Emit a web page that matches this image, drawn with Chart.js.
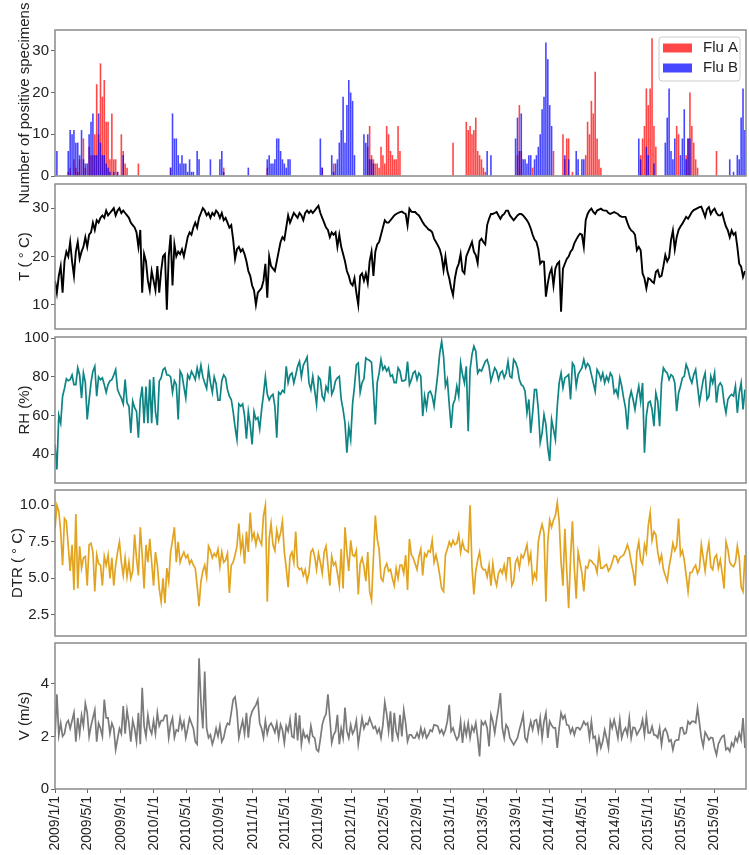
<!DOCTYPE html>
<html>
<head>
<meta charset="utf-8">
<script src="https://cdn.jsdelivr.net/npm/chart.js@4.4.1/dist/chart.umd.min.js"></script>
<style>
  body { margin: 0; background: #fff; }
  #wrap { position: relative; width: 749px; height: 855px; overflow: hidden; }
  canvas { position: absolute; left: 0; }
</style>
</head>
<body>
<div id="wrap">
  <canvas id="fluChart"></canvas>
  <canvas id="tempChart"></canvas>
  <canvas id="rhChart"></canvas>
  <canvas id="dtrChart"></canvas>
  <canvas id="windChart"></canvas>
</div>
<script>
// weekly series, first week starts 2009/1/1
const startDate = '2009/1/1';

const xTickLabels = ['2009/1/1', '2009/5/1', '2009/9/1', '2010/1/1', '2010/5/1', '2010/9/1', '2011/1/1',
  '2011/5/1', '2011/9/1', '2012/1/1', '2012/5/1', '2012/9/1', '2013/1/1', '2013/5/1', '2013/9/1',
  '2014/1/1', '2014/5/1', '2014/9/1', '2015/1/1', '2015/5/1', '2015/9/1'];

const fluTicks = [0, 10, 20, 30];
const tempTicks = [10, 20, 30];
const rhTicks = [40, 60, 80, 100];
const dtrTicks = [2.5, 5, 7.5, 10];
const windTicks = [0, 2, 4];

// positive specimens per week
const fluA = [
  0,0,0,0,0,0,0,1,2,0, 4,2,1,4,0,9,2,0,7,5,
  5,10,22,10,27,19,23,13,13,4, 15,4,4,1,0,10,6,3,2,0,
  0,0,0,0,3,0,0,0,0,0, 0,0,0,0,0,0,0,0,0,0,
  0,2,0,0,0,0,0,0,0,0, 0,0,0,0,0,0,0,0,0,0,
  0,0,0,0,0,0,0,0,0,2, 0,0,0,0,0,0,0,0,0,0,
  0,0,0,0,0,0,0,0,0,0, 0,0,2,0,0,0,0,0,0,0,
  0,0,0,0,0,0,0,0,0,0, 0,0,0,0,0,0,0,0,0,0,
  0,2,0,0,0,0,0,3,0,0, 0,0,0,0,0,0,0,0,0,0,
  0,0,0,0,0,7,12,5,4,3, 3,2,7,5,3,12,10,6,5,4,
  4,12,6,0,0,0,0,0,0,0, 0,0,0,0,0,0,0,0,0,0,
  0,0,0,0,0,0,0,0,0,0, 8,0,0,0,0,0,0,13,11,12,
  10,11,14,6,5,4,2,1,0,0, 0,0,0,0,0,0,0,0,0,0,
  0,0,0,0,5,17,6,0,0,0, 0,0,2,0,0,0,0,0,0,0,
  0,0,0,6,0,0,0,0,10,4, 9,9,0,1,0,0,0,0,0,0,
  5,13,10,18,15,25,9,4,2,0, 0,0,0,0,0,0,0,0,0,0,
  0,0,0,0,0,0,0,0,0,5, 9,12,21,17,21,33,12,7,0,0,
  0,0,0,0,0,0,0,0,12,10, 0,0,0,5,9,20,12,8,4,2,
  0,0,0,0,0,0,0,0,0,6, 0,0,0,0,0,0,0,0,0,0,
  0,0,0,0,0
];
const fluB = [
  0,6,0,0,0,0,0,6,11,10, 11,8,8,5,11,4,3,3,10,13,
  15,5,5,15,8,5,5,3,2,1, 0,1,0,1,0,0,5,0,0,0,
  0,0,0,0,0,0,0,0,0,0, 0,0,0,0,0,0,0,0,0,0,
  0,2,15,9,9,5,3,5,3,3, 1,4,1,1,0,6,4,0,0,0,
  0,0,4,0,0,0,0,4,6,1, 0,0,0,0,0,0,0,0,0,0,
  0,0,2,0,0,0,0,0,0,0, 0,0,4,5,3,3,4,9,9,6,
  4,3,2,4,4,0,0,0,0,0, 0,0,0,0,0,0,0,0,0,0,
  9,2,0,0,0,0,5,1,3,4, 8,11,19,8,17,23,20,18,5,0,
  0,0,0,10,8,10,4,4,3,0, 0,0,0,0,0,0,0,0,0,0,
  0,0,0,0,0,0,0,0,0,0, 0,0,0,0,0,0,0,0,0,0,
  0,0,0,0,0,0,0,0,0,0, 0,0,0,0,0,0,0,0,0,0,
  0,0,0,0,0,0,0,0,6,0, 5,0,0,0,0,0,0,0,0,0,
  0,0,0,9,14,6,15,4,4,3, 5,5,0,4,5,7,10,16,19,32,
  28,17,12,0,0,0,0,0,0,5, 0,4,0,0,0,6,4,0,4,4,
  0,0,0,0,0,0,0,0,0,0, 0,0,0,0,0,0,0,0,0,0,
  0,0,0,0,0,0,0,0,9,4, 0,0,7,5,0,0,3,0,0,0,
  0,0,8,14,21,6,4,9,0,0, 5,9,16,4,9,9,0,0,0,0,
  0,0,0,0,0,0,0,0,0,0, 0,0,0,0,0,0,4,0,1,0,
  5,4,14,21,11
];

// mean temperature (°C)
const temperature = [
  15,12.5,16,18,12.5,19,21,20,23,19, 16,21,23,19.5,21,22,24,22,24.5,25,
  27,25.5,27.5,27,28,28.5,28,29.5,28.5,29, 29.5,30,28.5,29.5,30,29,29.5,29,28.5,28,
  27,26.5,26,25,22,25.5,12.5,20.5,19,15, 13,17,15,13,18,12.5,17,20,20.5,9,
  20,24.5,14,22.5,20,21,20.5,21.5,20,22, 24,25,24.5,26,27,26,28,29,30,29.5,
  28.5,29,28,29,28.5,29.5,29,28,29,27.5, 28,27,26,26.5,23.5,19.5,21.5,22,21,21.5,
  20.5,19,17,16,14,13,10,12.5,13,13.5, 15,18.5,11.5,20,18,17.5,17,19,21,23,
  24,23.5,26,28.5,27,28,29,28.5,28,29, 28.5,27.5,29,29.5,29,29.5,29,29.5,30,30.5,
  29,28,27,26,25.5,24,25,24.5,25,22, 24.5,22,20.5,19,17,16,14.5,14,15.5,12.5,
  10,16,16.5,15,16.5,14.5,19,21,16,21, 22.5,23,24.5,26,27.5,27,27,27.5,28,28.5,
  28.8,29,29.2,29.3,29,28.8,26.4,29.9,29.3,29.2, 29.2,28.8,28.5,27.8,27.1,26.5,26.1,25.6,25.4,25,
  23.7,23,22.3,21.5,20,17.2,20,17,15.5,13.5, 12,15.5,17.5,18.5,20.5,17,16.5,20,21,22,
  23,21,20.3,18.6,23.2,23.7,23,22.5,26.5,27.8, 28.8,28.8,29,29.2,28.5,27.8,28.5,28.8,29.5,29.5,
  28.5,28,27.5,28,28.5,28.8,28.8,28.5,28,27.5, 26.8,25.8,24.5,23.5,23,21.5,18.5,19,18.9,11.7,
  14.5,16.5,17.5,14,17.5,18.5,18.9,8.6,17.5,18.5, 19.5,20,21,21.5,22.7,23.5,24.2,24.7,24.5,22,
  27.5,28.8,29.5,29.9,29.2,28.8,29.5,29.7,29.9,29.6, 29.5,29.5,29,28.8,29,29.2,29,28.8,28.4,28.2,
  28.2,28.2,27,26,25.4,25.1,24.5,21.3,22,21.3, 16.5,15.5,13.4,15.5,15.3,14.8,14.5,16.8,17.2,15.8,
  16,18,20.3,19,19.8,23.4,25.4,21.5,24,25.5, 26.2,26.8,27.5,28.2,27.8,28.5,29.2,29.6,29.8,30,
  30.2,30.3,29.3,28.2,29.8,30.2,28.8,29.5,29.9,29, 28.5,28.5,29,27.5,26.2,25.4,24,25.4,24.5,24.9,
  22,18.5,17.9,15.8,17
];

// relative humidity (%)
const humidity = [
  45,32,60,56,70,74,79,78,78.6,81, 76,76,84.7,81,69,82,77,58,68,77,
  83,85.5,70,80,78.6,79.5,76,72,76,78, 78.6,81,83.8,73.5,71,69,66,78.6,66.6,64.8,
  51,67.4,64,62.2,48.5,68.3,75,56,75,56, 78.6,56,80,62,55,77.8,79.5,83.8,84.7,81,
  81,80,72,78,76,58,83,81,75,69, 81,79,82.9,81,78.6,84.7,80,86,80,76.9,
  74,84,77,72,80,76.5,68,68,78,81, 79.5,73.4,70,68.3,62,54,47.6,66,64.8,66,
  60,48,62,55,45,62,58,59,53,63, 71,80,71,68,70,71,64.8,48.5,72,71,
  73,72,85.5,77,81,82,76.9,81,85.5,88, 80,86,88,90.3,76.9,73.4,80.3,73,65.7,80,
  78.6,70,68,75,72.6,85.5,71,73.4,78,79.5, 80.3,68.3,63,56,40.7,54,47.6,66,75,86.4,
  87.2,72,77,79,89.8,89,88.5,87.5,73,55.3, 77,82,89,83.8,85.5,83,84.7,80.3,81,77,
  77,84.7,83,78,78,78.6,88,76,78.6,82, 83,78.6,82,80.3,59.7,70,64,71.7,72.6,70,
  64.8,73.4,82,92.4,98.4,90.7,75.2,78.6,65.7,53.6, 65.7,68.3,75.2,70,87.2,81.2,76.9,85.5,51.9,83.8,
  91.6,95.9,93.3,82,83.8,83,85.5,88,89,85.5, 77.8,81.2,84.7,83,78.6,82,83,79.5,82,88,
  80.3,79.5,89,87.5,84.7,78.6,76,75.2,72.6,61.4, 68.3,51,61.4,73.4,73.4,63.1,46,51,60.5,55.3,
  43.3,36.4,57.9,52.8,47.6,64.8,76.9,82,74.3,79.5, 80.3,81.2,68.3,87.2,85.5,75.2,81.2,83,84.7,89,
  84.7,87,85.5,81.2,76.9,72.6,83.8,82,78.6,82, 76.9,80.3,77.8,82,80.3,71.7,73.4,70,79.5,75.2,
  69.1,64,52.8,68.3,72.6,68.3,63.1,70,75.2,67.4, 76.9,40.7,59.7,66.6,67.4,63.1,54.5,71.7,67.4,54.5,
  76.9,84.7,83,82,78.6,81.2,80.3,76.9,62.2,71.7, 75.2,79.5,80.3,86.4,83.8,79.5,76.9,81.2,83.8,75.2,
  66.6,72.6,78.6,82,68.3,70,80.3,76.9,82,66.6, 75.2,76.9,75.2,66.6,61.4,68.3,70,70.9,70,75.2,
  61.4,71.7,76.9,63.1,73.4
];

// diurnal temperature range (°C)
const dtr = [
  8.4,10,9.6,8.2,5.9,9.1,8.9,7.2,5.5,7.3, 4.2,9.4,4.3,7.2,5.7,6.4,6.5,4.5,7.3,7.4,
  6.8,4.1,6.6,6,5.9,4.5,6.5,5.9,6.6,5, 6.4,4.5,5.9,6.8,7.5,6.1,5.2,6.4,5.1,6.1,
  5,5.5,8,6.4,5.2,8.5,6.6,4.3,7.3,6.1, 7.7,6.1,4.5,6.8,5.9,4.3,3.4,5,3.3,5.7,
  4.8,6.8,7.6,8.5,6.1,7.5,6.1,6.5,6.8,6.4, 6.6,6,6.25,5.9,5.7,4.5,3.1,4.8,5.5,5.9,
  5.1,7.2,6.9,6.4,6.7,6.5,7,5.8,6.8,6.1, 6.25,6.7,4,5.9,6.1,6.6,7.2,8.75,6.9,7.7,
  6,8.2,6.8,9.5,7.7,8.1,7.3,8,7.6,7.3, 9.3,10,3.4,7.7,8.75,7.3,6.9,8.3,7.6,8.1,
  8.9,6.8,5.7,4.4,6.5,6.8,6.1,8.2,5.8,5.6, 5.7,5.2,5.6,4.8,5.35,6.8,7,6.5,5.6,6.7,
  6.1,5.35,6.8,7.2,5.9,4.5,6.5,5.9,6.1,5.35, 4.5,7,4.3,8.5,6.8,5.5,7.6,6.6,6.5,6.9,
  3.9,6,6.4,5.8,4.8,6.8,4.1,3.5,6.4,9.3, 7.7,7,5,4.8,5.7,6,5.5,5.6,5,4.5,
  5.7,5,5.9,5.9,5.35,6.6,4.2,7.7,6.6,6.4, 6,5.6,6.5,7,5.2,6.7,6.5,6.9,6.8,7.6,
  6.1,6.6,6,5.2,4.3,4.1,6.6,7,7.5,7.2, 7.6,7.3,7.4,8,6.8,7.5,7,6.9,6.8,10,
  5.8,3.9,5.5,6.25,6.8,5.8,5.6,5.6,5.1,5.9, 4.5,6,5,4.5,5.35,5.6,5.35,5.9,5.1,6.4,
  6.4,4.5,4.8,6.1,6.4,5.7,6.6,6.4,6.8,7.3, 6.1,6.7,4.8,5.35,5,7.5,8.2,8.7,8.1,3.4,
  7.5,9,8.5,9,9.3,10.2,8.9,6.1,4.5,8.4, 5.5,2.95,6.4,8.9,5.7,3.6,6.8,6.1,5.35,4.1,
  5.8,5.7,6.25,6.2,6,5.9,5.4,6.8,5.7,5.7, 5.85,5.95,5.5,5.7,6.1,6.55,6.5,6.1,6.4,6.5,
  6.6,6.9,7.3,6.9,6.1,5.5,4.5,6.8,7.5,6.25, 6,7.3,6.8,8.6,9.5,7.6,8.2,8,6.8,6.1,
  6.6,5.6,5.2,4.8,5.8,6.5,7.4,6.9,7.2,9.1, 6.6,6.9,6.25,5.2,4.1,5.4,5.4,5.7,5.9,5.35,
  5.65,7.3,6.4,5.5,6.7,7.4,5.8,5.6,6.4,6.6, 5.7,6.25,5.35,4.3,7.5,7,6.1,5.9,5.8,6.1,
  7.2,6.4,4.4,4.1,6.6
];

// wind speed (m/s)
const wind = [
  2.0,3.6,2.05,2.5,2.0,2.1,2.5,2.6,2.3,2.6, 2.9,1.8,2.7,2.1,2.8,2.4,3.25,2.9,2.0,2.4,
  2.7,3.0,1.8,2.5,2.3,2.0,3.4,2.7,2.7,2.1, 2.5,2.3,1.5,1.9,2.3,2.1,3.15,2.1,3.0,2.5,
  1.8,2.6,2.3,1.8,2.9,1.7,3.85,2.4,2.0,2.8, 2.3,2.1,2.6,2.1,2.9,2.4,2.6,2.6,2.8,2.8,
  1.95,2.45,2.7,1.95,2.25,2.2,2.7,2.3,2.55,1.95, 2.3,2.7,2.5,2.3,1.8,1.7,4.97,3.3,2.3,4.47,
  2.3,1.95,2.06,1.7,1.95,2.3,2.0,2.4,1.8,1.95, 2.3,2.5,2.45,2.9,3.4,3.5,2.95,1.95,2.3,2.6,
  2.1,2.9,1.95,2.7,2.95,3.08,3.2,3.39,2.5,2.3, 1.95,2.6,2.1,2.4,2.5,2.35,2.15,2.5,1.95,2.45,
  2.25,1.75,2.4,2.2,2.65,2.0,1.95,2.9,1.85,2.8, 1.7,2.2,1.95,2.05,1.81,2.4,2.0,1.94,1.5,1.43,
  1.9,2.44,2.7,2.85,3.6,2.7,1.75,2.06,2.19,2.82, 1.7,2.3,1.94,3.1,2.2,1.94,2.44,2.1,2.25,2.6,
  1.7,2.2,2.7,2.3,2.5,2.45,2.7,2.5,2.3,2.38, 2.13,2.3,1.94,2.44,3.3,2.85,2.2,2.95,1.8,2.9,
  2.19,1.94,2.82,2.0,3.0,2.5,1.81,2.06,2.06,1.94, 1.94,2.13,1.94,2.32,2.0,2.25,1.94,2.06,2.25,2.19,
  2.44,2.42,2.38,2.13,2.25,2.06,2.25,2.57,3.2,2.19, 2.32,2.06,1.87,2.0,2.57,1.75,2.44,2.06,2.5,1.94,
  2.38,2.19,2.51,1.94,1.24,2.57,2.44,2.57,2.32,1.62, 2.82,2.57,2.13,2.63,3.08,3.65,2.32,1.94,2.44,2.32,
  1.94,1.81,1.68,1.81,1.94,2.25,2.51,2.82,1.94,1.81, 2.25,2.57,2.25,2.6,2.63,2.19,2.7,1.94,2.57,2.89,
  1.94,2.57,2.42,2.32,2.32,1.56,2.32,2.89,2.67,2.8, 2.44,2.42,2.13,2.32,2.06,2.32,2.34,2.25,2.38,2.57,
  2.44,2.51,1.94,2.57,1.94,2.0,1.43,1.94,1.56,1.81, 2.25,1.94,1.56,2.57,2.32,2.63,2.32,1.94,2.63,1.94,
  2.19,2.32,2.06,2.7,1.94,2.34,2.32,2.06,2.19,2.32, 2.63,2.06,2.76,2.13,2.13,2.38,2.06,2.04,1.94,2.32,
  1.68,2.19,2.29,2.13,1.81,1.87,1.49,1.81,1.87,1.87, 2.32,2.34,2.09,2.13,2.57,2.47,2.57,2.57,2.51,3.08,
  2.51,1.94,1.62,2.16,2.03,1.87,1.96,1.94,1.56,1.3, 1.71,1.87,2.0,2.04,1.49,1.56,1.43,1.75,1.62,1.96,
  1.81,2.13,1.87,2.7,1.56
];

const FONT = 'Arial, "Liberation Sans", Helvetica, sans-serif';
const xMax = 2552; // days after startDate at the right frame edge

// days since startDate
function dayOf(s) {
  const [y, m, d] = s.split('/').map(Number);
  const [y0, m0, d0] = startDate.split('/').map(Number);
  return (Date.UTC(y, m - 1, d) - Date.UTC(y0, m0 - 1, d0)) / 86400000;
}
const toPoints = arr => arr.map((v, i) => ({x: i * 7, y: v}));

// grey box round each plot
const frame = {
  id: 'frame',
  afterDraw(chart) {
    const {ctx, chartArea: a} = chart;
    ctx.save();
    ctx.strokeStyle = '#8a8a8a';
    ctx.lineWidth = 1.5;
    ctx.strokeRect(a.left, a.top, a.right - a.left, a.bottom - a.top);
    ctx.restore();
  }
};

// legend box inside the top right corner of the flu panel
const boxLegend = {
  id: 'boxLegend',
  afterDraw(chart) {
    const {ctx, chartArea: a} = chart;
    const w = 81, h = 44;
    const x0 = a.right - 6 - w, y0 = a.top + 7;
    ctx.save();
    ctx.fillStyle = '#fff';
    ctx.strokeStyle = '#cccccc';
    ctx.lineWidth = 1;
    ctx.beginPath();
    ctx.roundRect(x0, y0, w, h, 3);
    ctx.fill();
    ctx.stroke();
    ctx.font = '15px ' + FONT;
    ctx.textBaseline = 'middle';
    chart.data.datasets.forEach((ds, i) => {
      const cy = y0 + 11 + i * 20;
      ctx.fillStyle = ds.backgroundColor;
      ctx.fillRect(x0 + 4, cy - 4.5, 29, 9);
      ctx.fillStyle = '#222';
      ctx.fillText(ds.label, x0 + 44, cy);
    });
    ctx.restore();
  }
};

function makeOptions(p) {
  return {
    responsive: false,
    animation: false,
    layout: {padding: {left: 0, right: 3, top: p.padTop, bottom: p.padBottom}},
    plugins: {legend: {display: false}, tooltip: {enabled: false}},
    scales: {
      x: {
        type: 'linear',
        min: 0,
        max: xMax,
        offset: false,
        display: p.showX,
        grid: {drawOnChartArea: false, drawTicks: true, tickLength: 4, color: '#666', offset: false},
        border: {display: false},
        afterBuildTicks: s => { s.ticks = xTickLabels.map(l => ({value: dayOf(l)})); },
        afterFit: s => { s.height = p.showX ? 66 : 0; },
        ticks: {
          autoSkip: false, minRotation: 90, maxRotation: 90, padding: 3,
          color: '#222', font: {family: FONT, size: 14},
          callback: (v, i) => xTickLabels[i]
        }
      },
      y: {
        min: p.min,
        max: p.max,
        afterBuildTicks: s => { s.ticks = p.ticks.map(v => ({value: v})); },
        afterFit: s => { s.width = 55; },
        grid: {drawOnChartArea: false, tickLength: 4, color: '#666'},
        border: {display: false},
        ticks: {padding: 2, color: '#222', font: {family: FONT, size: 15}, callback: p.fmt || (v => v)},
        title: {display: true, text: p.title, color: '#222', font: {family: FONT, size: 15},
          padding: {top: p.titleGap === undefined ? 16 : p.titleGap, bottom: 0}}
      }
    }
  };
}

function setCanvas(id, top, height) {
  const c = document.getElementById(id);
  c.width = 749;
  c.height = height;
  c.style.top = top + 'px';
  return c;
}

// flu panel
new Chart(setCanvas('fluChart', 0, 210), {
  type: 'bar',
  data: {
    datasets: [{
      label: 'Flu A',
      data: toPoints(fluA),
      backgroundColor: 'rgba(255,0,0,0.72)',
      borderWidth: 0,
      barPercentage: 0.85,
      categoryPercentage: 1,
      grouped: false,
      order: 2
    }, {
      label: 'Flu B',
      data: toPoints(fluB),
      backgroundColor: 'rgba(0,0,255,0.72)',
      borderWidth: 0,
      barPercentage: 0.85,
      categoryPercentage: 1,
      grouped: false,
      order: 1
    }]
  },
  options: makeOptions({padTop: 30, padBottom: 34, showX: false, min: 0, max: 35, ticks: fluTicks,
    title: 'Number of positive specimens'}),
  plugins: [frame, boxLegend]
});

function linePanel(id, top, height, values, color, width, p) {
  new Chart(setCanvas(id, top, height), {
    type: 'line',
    data: {
      datasets: [{
        data: toPoints(values),
        borderColor: color,
        borderWidth: width,
        pointRadius: 0,
        tension: 0,
        fill: false
      }]
    },
    options: makeOptions(p),
    plugins: [frame]
  });
}

linePanel('tempChart', 172, 169, temperature, '#000000', 1.9,
  {padTop: 12, padBottom: 12, showX: false, min: 5, max: 35, ticks: tempTicks, title: 'T ( \u00B0 C)'});
linePanel('rhChart', 325, 170, humidity, '#0e8484', 1.7,
  {padTop: 12, padBottom: 12, showX: false, min: 25, max: 100.7, ticks: rhTicks, title: 'RH (%)'});
linePanel('dtrChart', 478, 170, dtr, '#e2a420', 1.7,
  {padTop: 12, padBottom: 12, showX: false, min: 1.05, max: 11.05, ticks: dtrTicks,
    title: 'DTR ( \u00B0 C)', titleGap: 9, fmt: v => v.toFixed(1)});
linePanel('windChart', 631, 224, wind, '#7a7a7a', 1.7,
  {padTop: 12, padBottom: 0, showX: true, min: 0, max: 5.55, ticks: windTicks, title: 'V (m/s)'});
</script>
</body>
</html>
